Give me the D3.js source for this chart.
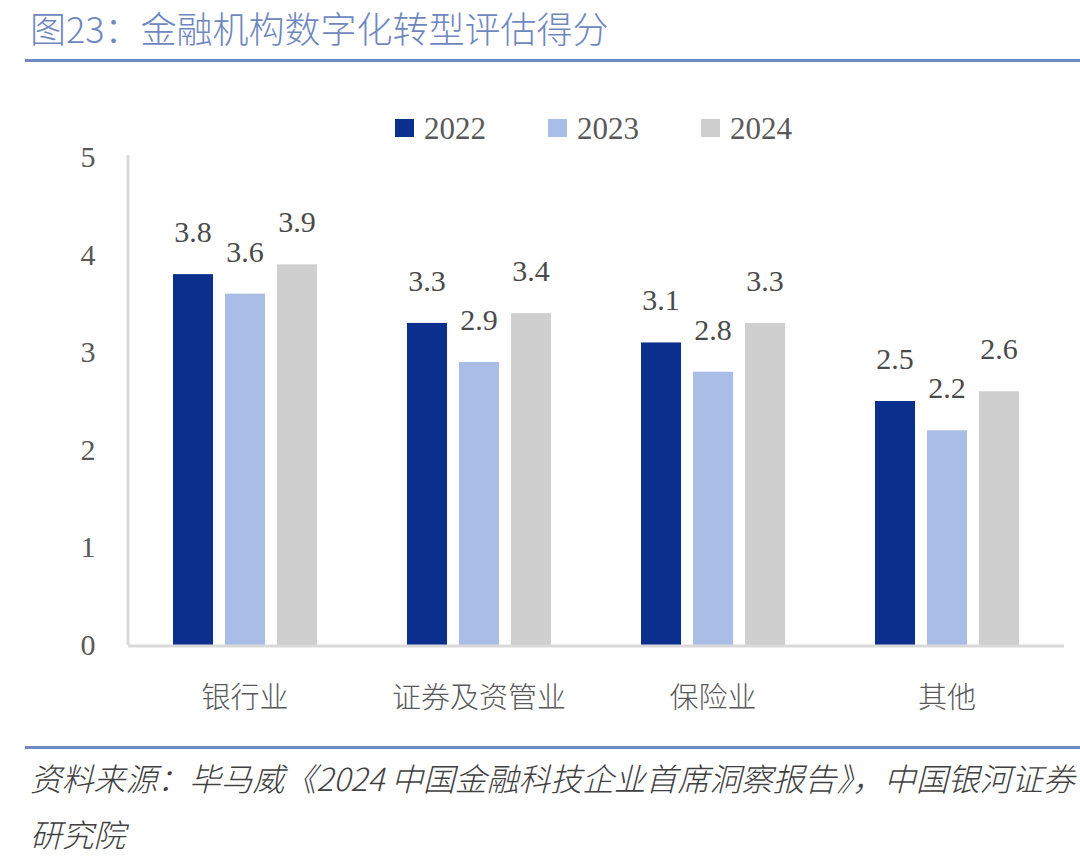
<!DOCTYPE html>
<html>
<head>
<meta charset="utf-8">
<script src="https://cdn.jsdelivr.net/npm/d3@7"></script>
<style>
  body { margin: 0; background: #fff; }
  svg { display: block; }
</style>
</head>
<body>
<svg class="chart"></svg>
<script>
var categories = ["银行业", "证券及资管业", "保险业", "其他"];
var years = ["2022", "2023", "2024"];
var values2022 = [3.8, 3.3, 3.1, 2.5];
var values2023 = [3.6, 2.9, 2.8, 2.2];
var values2024 = [3.9, 3.4, 3.3, 2.6];
var yTicks = [0, 1, 2, 3, 4, 5];

var colors = ["#0a2f8c", "#a9bde6", "#d0cfd0"];
var cjk = "'Noto Sans CJK SC', sans-serif";
var num = "'Liberation Serif', serif";

var W = 1080, H = 858;
var svg = d3.select(".chart").attr("width", W).attr("height", H);

// title + rules
svg.append("text")
    .attr("x", 30).attr("y", 43)
    .attr("fill", "#6f87bf")
    .attr("font-family", cjk)
    .attr("font-weight", 300)
    .attr("font-size", 36)
    .text("图23：金融机构数字化转型评估得分");

svg.append("rect").attr("x", 25).attr("y", 59).attr("width", W - 25).attr("height", 3).attr("fill", "#7089c0");
svg.append("rect").attr("x", 25).attr("y", 746).attr("width", W - 25).attr("height", 3).attr("fill", "#7089c0");

// plot area
var plotLeft = 128, plotRight = 1064, plotBottom = 645, plotTop = 157;

var x0 = d3.scaleBand().domain(categories).range([plotLeft, plotRight]);
var x1 = d3.scaleBand().domain(years).range([0, 144]).paddingInner(0.23);
var y = d3.scaleLinear().domain([0, 5]).range([plotBottom, plotTop]);

var series = [values2022, values2023, values2024];
var data = [];
categories.forEach(function (c, i) {
    years.forEach(function (yr, j) {
        data.push({cat: c, year: yr, v: series[j][i], color: colors[j]});
    });
});

// axis lines
svg.append("line")
    .attr("x1", plotLeft).attr("x2", plotLeft)
    .attr("y1", y(5) - 2).attr("y2", plotBottom)
    .attr("stroke", "#d9d9d9").attr("stroke-width", 3);

svg.selectAll(".ytick")
    .data(yTicks)
    .enter().append("text")
    .attr("class", "ytick")
    .attr("x", 88)
    .attr("y", function (d) { return y(d) + 10; })
    .attr("text-anchor", "middle")
    .attr("fill", "#595959")
    .attr("font-family", num)
    .attr("font-size", 30)
    .text(function (d) { return d; });

// bars
var groupOffset = (x0.bandwidth() - 144) / 2;
svg.selectAll(".bar")
    .data(data)
    .enter().append("rect")
    .attr("class", "bar")
    .attr("x", function (d) { return x0(d.cat) + groupOffset + x1(d.year); })
    .attr("y", function (d) { return y(d.v); })
    .attr("width", x1.bandwidth())
    .attr("height", function (d) { return plotBottom - y(d.v); })
    .attr("fill", function (d) { return d.color; });

svg.append("line")
    .attr("x1", plotLeft).attr("x2", plotRight)
    .attr("y1", plotBottom + 1).attr("y2", plotBottom + 1)
    .attr("stroke", "#d9d9d9").attr("stroke-width", 3);

// value labels
svg.selectAll(".val")
    .data(data)
    .enter().append("text")
    .attr("class", "val")
    .attr("x", function (d) { return x0(d.cat) + groupOffset + x1(d.year) + x1.bandwidth() / 2; })
    .attr("y", function (d) { return y(d.v) - 32; })
    .attr("text-anchor", "middle")
    .attr("fill", "#4a4a4a")
    .attr("font-family", num)
    .attr("font-size", 30)
    .text(function (d) { return d.v.toFixed(1); });

// category labels
svg.selectAll(".cat")
    .data(categories)
    .enter().append("text")
    .attr("class", "cat")
    .attr("x", function (d) { return x0(d) + x0.bandwidth() / 2; })
    .attr("y", 708)
    .attr("text-anchor", "middle")
    .attr("fill", "#595959")
    .attr("font-family", cjk)
    .attr("font-weight", 300)
    .attr("font-size", 29)
    .text(function (d) { return d; });

// legend
var legend = svg.selectAll(".legend")
    .data(years)
    .enter().append("g")
    .attr("class", "legend")
    .attr("transform", function (d, i) { return "translate(" + (395 + i * 153) + ",119)"; });

legend.append("rect")
    .attr("width", 19).attr("height", 18)
    .attr("fill", function (d, i) { return colors[i]; });

legend.append("text")
    .attr("x", 29).attr("y", 20)
    .attr("fill", "#595959")
    .attr("font-family", num)
    .attr("font-size", 31)
    .text(function (d) { return d; });

// source note
var note = svg.append("g")
    .attr("font-family", cjk)
    .attr("font-style", "italic")
    .attr("font-weight", 300)
    .attr("font-size", 31.8)
    .attr("fill", "#404040");

note.append("text").attr("x", 30).attr("y", 791)
    .text("资料来源：毕马威《2024 中国金融科技企业首席洞察报告》，中国银河证券");
note.append("text").attr("x", 30).attr("y", 847)
    .text("研究院");
</script>
</body>
</html>
